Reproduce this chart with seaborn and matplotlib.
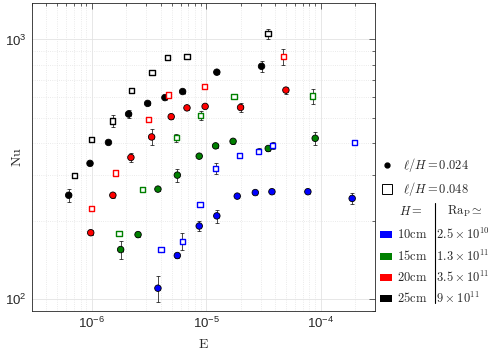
# Nu vs E, log-log, four tank heights and two roughness ratios
import numpy as np
import pandas as pd
import matplotlib
matplotlib.use("Agg")
import matplotlib.pyplot as plt
from matplotlib.lines import Line2D
from matplotlib.patches import Patch
from matplotlib.ticker import NullFormatter
import seaborn as sns

# ---- data (E, Nu, error on Nu) ----
# l/H = 0.024 (filled circles)
e10_a = [3.79e-6, 5.6e-6, 8.7e-6, 1.24e-5, 1.87e-5, 2.69e-5, 3.76e-5, 7.75e-5, 1.89e-4]
nu10_a = [110, 147, 191, 209, 249, 257, 259, 259, 244]
dnu10_a = [13, 3, 8, 12, 4, 4, 4, 4, 12]

e15_a = [1.79e-6, 2.54e-6, 3.79e-6, 5.6e-6, 8.7e-6, 1.21e-5, 1.72e-5, 3.49e-5, 8.98e-5]
nu15_a = [155, 177, 265, 300, 355, 389, 405, 380, 416]
dnu15_a = [12, 4, 5, 18, 6, 8, 8, 8, 25]

e20_a = [9.8e-7, 1.53e-6, 2.2e-6, 3.34e-6, 4.95e-6, 6.8e-6, 9.8e-6, 2.0e-5, 4.98e-5]
nu20_a = [180, 251, 351, 421, 504, 545, 552, 547, 638]
dnu20_a = [4, 5, 15, 30, 10, 10, 10, 20, 20]

e25_a = [6.29e-7, 9.66e-7, 1.40e-6, 2.10e-6, 3.08e-6, 4.36e-6, 6.23e-6, 1.24e-5, 3.05e-5]
nu25_a = [251, 333, 401, 516, 567, 597, 630, 748, 788]
dnu25_a = [15, 6, 7, 20, 8, 8, 10, 12, 40]

# l/H = 0.048 (open squares)
e10_b = [4.03e-6, 6.18e-6, 8.83e-6, 1.21e-5, 1.96e-5, 2.89e-5, 3.81e-5, 1.98e-4]
nu10_b = [155, 167, 231, 319, 358, 371, 391, 401]
dnu10_b = [3, 13, 5, 15, 5, 10, 12, 10]

e15_b = [1.73e-6, 2.79e-6, 5.48e-6, 8.95e-6, 1.75e-5, 8.57e-5]
nu15_b = [179, 265, 419, 509, 604, 605]
dnu15_b = [4, 5, 15, 20, 10, 40]

e20_b = [1.0e-6, 1.61e-6, 3.15e-6, 4.71e-6, 9.7e-6, 4.71e-5]
nu20_b = [223, 306, 492, 611, 659, 860]
dnu20_b = [5, 6, 10, 10, 12, 60]

e25_b = [7.05e-7, 1.0e-6, 1.52e-6, 2.22e-6, 3.37e-6, 4.61e-6, 6.8e-6, 3.48e-5]
nu25_b = [298, 412, 485, 635, 746, 853, 858, 1052]
dnu25_b = [6, 8, 25, 10, 10, 12, 12, 45]

heights = ["10cm", "15cm", "20cm", "25cm"]
ra_labels = [r"2.5\times10^{10}", r"1.3\times10^{11}", r"3.5\times10^{11}", r"9\times10^{11}"]
colors = {"10cm": "#0000ff", "15cm": "#008000", "20cm": "#ff0000", "25cm": "#000000"}

# long table
rows = []
series = [
    ("10cm", "0.024", e10_a, nu10_a, dnu10_a), ("15cm", "0.024", e15_a, nu15_a, dnu15_a),
    ("20cm", "0.024", e20_a, nu20_a, dnu20_a), ("25cm", "0.024", e25_a, nu25_a, dnu25_a),
    ("10cm", "0.048", e10_b, nu10_b, dnu10_b), ("15cm", "0.048", e15_b, nu15_b, dnu15_b),
    ("20cm", "0.048", e20_b, nu20_b, dnu20_b), ("25cm", "0.048", e25_b, nu25_b, dnu25_b),
]
for h, lh, e, nu, dnu in series:
    for a, b, c in zip(e, nu, dnu):
        rows.append({"E": a, "Nu": b, "dNu": c, "H": h, "lH": lh})
df = pd.DataFrame(rows)

# ---- style ----
sns.set_style("white")
plt.rcParams["font.family"] = ["Liberation Sans", "DejaVu Sans"]
plt.rcParams["mathtext.fontset"] = "custom"
plt.rcParams["mathtext.rm"] = "Liberation Sans"
plt.rcParams["mathtext.it"] = "Liberation Sans:italic"
plt.rcParams["mathtext.bf"] = "Liberation Sans:bold"

fig, ax = plt.subplots(figsize=(4.91, 3.52), dpi=100)
fig.subplots_adjust(left=0.065, right=0.764, bottom=0.117, top=0.991)
ax.set_xscale("log")
ax.set_yscale("log")

# error bars under the markers
ax.errorbar(df["E"], df["Nu"], yerr=df["dNu"], xerr=df["E"] * 0.04, fmt="none",
            ecolor="k", elinewidth=0.5, capsize=1.3, capthick=0.5, zorder=2)

filled = df[df["lH"] == "0.024"]
sns.scatterplot(data=filled, x="E", y="Nu", hue="H", palette=colors, marker="o",
                s=22, edgecolor="k", linewidth=0.6, legend=False, zorder=3, ax=ax)

hollow = df[df["lH"] == "0.048"]
sns.scatterplot(data=hollow, x="E", y="Nu", hue="H", palette=colors, marker="s",
                s=14, linewidth=1.0, legend=False, zorder=3, ax=ax)
coll = ax.collections[-1]
coll.set_edgecolors(coll.get_facecolors())
coll.set_facecolors("white")

ax.set_xlim(3e-7, 3e-4)
ax.set_ylim(90, 1380)
ax.yaxis.set_minor_formatter(NullFormatter())

ax.grid(which="major", color="#e3e3e3", lw=0.6, ls="-")
ax.grid(which="minor", color="#e3e3e3", lw=0.6, ls=":")
ax.set_axisbelow(True)
ax.tick_params(which="both", direction="in", top=True, right=True, colors="#262626",
               labelsize=9.5, labelcolor="#262626")
ax.tick_params(which="major", length=4, width=0.5)
ax.tick_params(which="minor", length=2, width=0.5)
for s in ax.spines.values():
    s.set_linewidth(0.6)
    s.set_color("#262626")

ax.set_xlabel(r"$\mathrm{E}$", math_fontfamily="cm", fontsize=10)
ax.set_ylabel(r"$\mathrm{Nu}$", math_fontfamily="cm", fontsize=10)
ax.xaxis.set_label_coords(0.5, -0.085)
ax.yaxis.set_label_coords(-0.024, 0.5)

# ---- legends ----
mk = [Line2D([], [], marker="o", color="k", ls="", markersize=3.5),
      Line2D([], [], marker="s", mfc="none", mec="k", mew=0.7, ls="", markersize=7)]
leg1 = fig.legend(mk, [r"$\ell/H=0.024$", r"$\ell/H=0.048$"], loc="upper left",
                  bbox_to_anchor=(374 / 491, 1 - 150 / 352), frameon=False, fontsize=9,
                  handlelength=1.0, handletextpad=0.8, labelspacing=0.45, borderpad=0)
for t in leg1.get_texts():
    t.set_math_fontfamily("cm")

patches = [Patch(facecolor=colors[h], edgecolor="none") for h in heights]
labels = [r"$%s\mathrm{cm}\quad%s$" % (h[:2], r) for h, r in zip(heights, ra_labels)]
leg2 = fig.legend(patches, labels, loc="upper left", bbox_to_anchor=(374 / 491, 1 - 221 / 352),
                  frameon=False, fontsize=9, handlelength=0.95, handleheight=0.5,
                  handletextpad=0.4, labelspacing=0.5, borderpad=0)
for t in leg2.get_texts():
    t.set_math_fontfamily("cm")

fig.text(411 / 491, 1 - 211 / 352, r"$H=$", math_fontfamily="cm", fontsize=9,
         ha="center", va="center")
fig.text(465 / 491, 1 - 211 / 352, r"$\mathrm{Ra}_\mathrm{P}\simeq$", math_fontfamily="cm",
         fontsize=9, ha="center", va="center")
fig.add_artist(Line2D([435 / 491, 435 / 491], [1 - 203 / 352, 1 - 303 / 352],
                      color="k", lw=0.8, transform=fig.transFigure))

fig.savefig("out.png", dpi=100)
